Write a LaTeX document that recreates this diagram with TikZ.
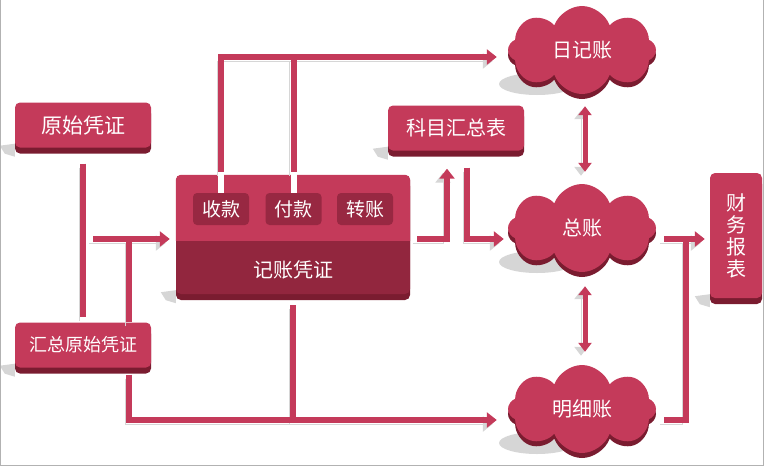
\documentclass[tikz,border=0pt]{standalone}
\usepackage{fontspec}
\setmainfont{Noto Sans CJK SC}
\usetikzlibrary{arrows.meta, shapes.symbols, shadows, backgrounds}

\definecolor{redlight}{RGB}{196,58,90}
\definecolor{reddark}{RGB}{146,38,62}
\definecolor{rededge}{RGB}{122,28,48}
\definecolor{redtab}{RGB}{152,40,66}
\definecolor{shadowgray}{RGB}{214,214,214}

% cast shadows on the floor, lower left
\newcommand{\boxshadow}[1]{\fill[shadowgray] ([yshift=4pt]#1.south west) -- ([xshift=-15pt,yshift=2pt]#1.south west) -- ([xshift=-10pt,yshift=-6pt]#1.south west) -- ([yshift=-9pt]#1.south west) -- cycle;}
\newcommand{\cloudshadow}[1]{\fill[shadowgray] ([xshift=-45pt,yshift=-34pt]#1.center) ellipse [x radius=38pt, y radius=11pt];}

\begin{document}
\begin{tikzpicture}
    [
        x=1pt, y=-1pt,
        box/.style={fill=redlight, text=white, rounded corners=5pt, inner sep=0pt,
            minimum width=136pt, minimum height=45pt, font=\fontsize{20}{22}\selectfont,
            general shadow={shadow yshift=-6pt, fill=rededge}},
        tab/.style={fill=redtab, text=white, rounded corners=4pt, inner sep=0pt,
            minimum width=56pt, minimum height=32pt, font=\fontsize{19}{22}\selectfont},
        ledger/.style={cloud, cloud puffs=8, cloud puff arc=140, cloud ignores aspect, fill=redlight, text=white, inner sep=0pt,
            minimum width=148pt, minimum height=88pt, font=\fontsize{20}{22}\selectfont,
            general shadow={shadow yshift=-5pt, fill=rededge}},
        lbl/.style={text=white, inner sep=0pt, font=\fontsize{20}{22}\selectfont},
        conn/.style={draw=redlight, line width=6pt,
            preaction={draw=shadowgray, transform canvas={shift={(-4pt,-4pt)}}}},
        arr/.style={conn, -{Triangle[width=15pt, length=10pt]}},
        dbl/.style={conn, line width=5pt, {Triangle[width=13pt, length=9pt]}-{Triangle[width=13pt, length=9pt]}}
    ]
        \useasboundingbox (0,0) rectangle (765,466);
        \draw[gray!60, line width=1pt] (0.5,0) -- (0.5,465.5) -- (763.5,465.5) -- (763.5,0);

        % =========================================================================
        % NODES
        % =========================================================================
        % --- Left column ---
        \node [box, font=\fontsize{21}{22}\selectfont] (yuanshi) at (83,125) {原始凭证};
        \node [box, font=\fontsize{18}{20}\selectfont] (huizong) at (83,345) {汇总原始凭证};

        % --- Voucher block ---
        \node [box, fill=reddark, minimum width=234pt, minimum height=119pt] (jizhang) at (293,234.5) {};
        \begin{scope}
            \clip (jizhang.north west) rectangle (jizhang.east |- 0,240);
            \fill [redlight, rounded corners=5pt] (jizhang.north west) rectangle (jizhang.south east);
        \end{scope}
        \node [lbl] (jztitle) at (293,270) {记账凭证};
        \node [tab] (shoukuan) at (221,209) {收款};
        \node [tab] (fukuan) at (293.5,209) {付款};
        \node [tab] (zhuanzhang) at (365,209) {转账};

        % --- Summary and report ---
        \node [box] (kemu) at (456,128) {科目汇总表};
        \node [box, minimum width=52pt, minimum height=125pt, align=center] (caiwu) at (736,235.5) {财\\务\\报\\表};

        % --- Ledgers ---
        \node [ledger] (rj) at (582,50) {日记账};
        \node [ledger] (zz) at (582,228) {总账};
        \node [ledger] (mx) at (582,409) {明细账};

        \begin{scope}[on background layer]
            \boxshadow{yuanshi} \boxshadow{huizong} \boxshadow{jizhang}
            \boxshadow{kemu} \boxshadow{caiwu}
            \cloudshadow{rj} \cloudshadow{zz} \cloudshadow{mx}
        \end{scope}

        \coordinate (feed) at (93,239);
        \coordinate (rjin) at ([xshift=-11pt,yshift=-7pt]rj.west);
        \coordinate (merge) at ([xshift=-24pt,yshift=-3.5pt]caiwu.west);

        % =========================================================================
        % PATHS
        % =========================================================================
        % --- Left side ---
        \draw [conn] ([yshift=-16pt]yuanshi.south) -- ([yshift=5pt]huizong.north);
        \draw [arr] (feed) -- ([xshift=-6pt]jizhang.west |- feed);
        \draw [conn] ([xshift=46pt]huizong.north) -- ([xshift=46pt]huizong.north |- feed);
        \draw [conn] ([yshift=-11pt]jizhang.south) -- ([yshift=-11pt]jizhang.south |- mx.west);
        \draw [arr] ([xshift=46pt,yshift=-7pt]huizong.south) |- ([xshift=-11pt,yshift=-11pt]mx.west);

        % --- Top ---
        \draw [arr] ([yshift=3pt]shoukuan.north |- jizhang.north) |- (rjin);
        \draw [conn] ([yshift=3pt]fukuan.north |- jizhang.north) -- (fukuan.north |- rjin);
        \draw [line width=6pt, white] (shoukuan.north) -- ([yshift=3pt]shoukuan.north |- jizhang.north);
        \draw [line width=6pt, white] (fukuan.north) -- ([yshift=3pt]fukuan.north |- jizhang.north);

        % --- Middle ---
        \draw [arr] ([xshift=7pt]jizhang.east |- feed) -| ([xshift=-9pt,yshift=-18pt]kemu.south);
        \draw [arr] ([xshift=11pt,yshift=-17pt]kemu.south) |- ([xshift=-4pt,yshift=-11pt]zz.west);

        % --- Right side ---
        \draw [arr] ([xshift=8pt,yshift=-11pt]zz.east) -- ([xshift=-5pt,yshift=-3.5pt]caiwu.west);
        \draw [conn] ([xshift=8pt,yshift=-11pt]mx.east) -| (merge);
        \draw [dbl] ([xshift=3pt,yshift=-12pt]rj.south) -- ([xshift=3pt,yshift=12pt]zz.north);
        \draw [dbl] ([xshift=3pt,yshift=-14pt]zz.south) -- ([xshift=3pt,yshift=13pt]mx.north);

    \end{tikzpicture}
\end{document}
